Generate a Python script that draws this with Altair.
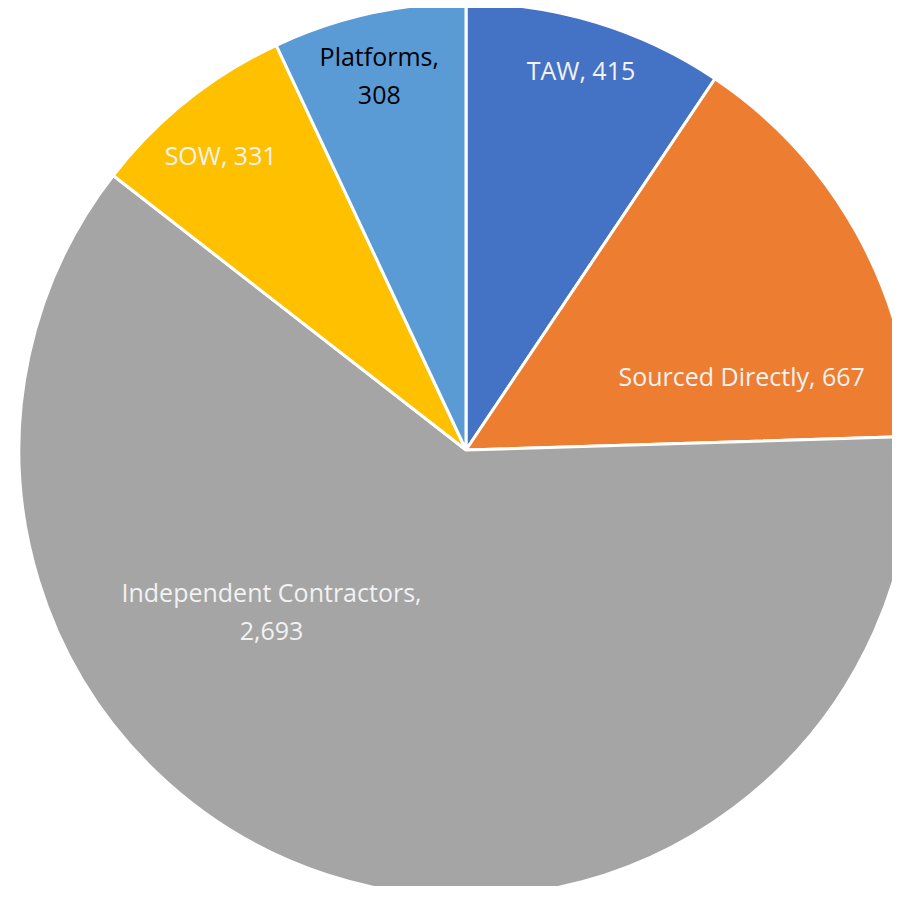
import altair as alt
import pandas as pd

categories = ["TAW", "Sourced Directly", "Independent Contractors", "SOW", "Platforms"]
values = [415, 667, 2693, 331, 308]
label_breaks = [False, False, True, False, True]
colors = ["#4472C4", "#ED7D31", "#A5A5A5", "#FFC000", "#5B9BD5"]
label_colors = ["#F2F2F2", "#F2F2F2", "#F2F2F2", "#F2F2F2", "#000000"]

labels = [
    f"{c},\n{v:,}" if b else f"{c}, {v:,}"
    for c, v, b in zip(categories, values, label_breaks)
]
df = pd.DataFrame({
    "category": categories,
    "value": values,
    "order": list(range(len(categories))),
    "label": labels,
})

CX, CY, R = 458, 442, 447

base = alt.Chart(df).encode(
    theta=alt.Theta("value:Q", stack=True),
    order=alt.Order("order:Q"),
)

pie = base.mark_arc(stroke="white", strokeWidth=3).encode(
    color=alt.Color("category:N", scale=alt.Scale(domain=categories, range=colors), legend=None),
    x=alt.value(CX),
    y=alt.value(CY),
    radius=alt.value(R),
)

# label placement: (radius, dx, dy) per slice
placement = {
    "TAW": (395, 0, 0),
    "Sourced Directly": (395, -70, 119),
    "Independent Contractors": (395, -72, -232),
    "SOW": (385, -5, 8),
    "Platforms": (385, -3, -16),
}

layers = [pie]
for cat, lc in zip(categories, label_colors):
    r, dx, dy = placement[cat]
    layers.append(
        base.mark_text(
            font="Open Sans", fontSize=25, color=lc, lineBreak="\n",
            lineHeight=38, dx=dx, dy=dy, align="center", baseline="middle",
        ).encode(
            text="label:N",
            x=alt.value(CX),
            y=alt.value(CY),
            radius=alt.value(r),
            opacity=alt.condition(alt.datum.category == cat, alt.value(1), alt.value(0)),
        )
    )

chart = alt.layer(*layers).properties(
    width=884, height=878, padding=0, autosize=alt.AutoSizeParams(type="none")
).configure_view(stroke=None)

chart.save("out.html", embed_options={"renderer": "svg", "actions": False})
